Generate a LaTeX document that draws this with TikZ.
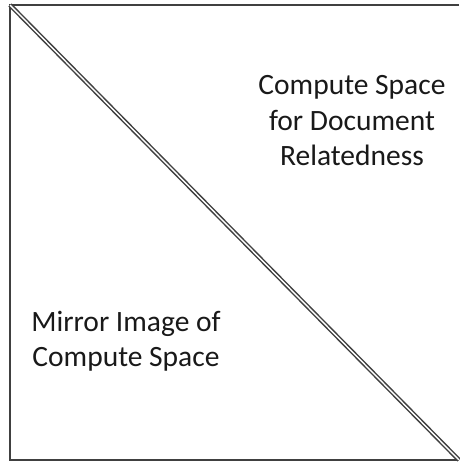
\documentclass[tikz,border=0pt]{standalone}
\usepackage{fontspec}
\setmainfont{Carlito}
\begin{document}
\begin{tikzpicture}[x=1pt,y=-1pt,
  edge/.style={draw=black!75,line width=1.6pt},
  diag/.style={draw=black!75,line width=1.5pt,double=white,double distance=1.4pt},
  label/.style={align=center,font=\fontsize{29.5}{35.5}\selectfont,text=black!90,inner sep=0pt}]
\useasboundingbox (0,0) rectangle (459,464);
\coordinate (tl) at (10,5);
\coordinate (tr) at (459,5);
\coordinate (bl) at (10,460);
\coordinate (br) at (459,460);
% frame: top, left and bottom edges
\draw[edge] (tr) -- (tl) -- (bl) -- (br);
% separating diagonal
\draw[diag] (tl) -- (br);
\node[label] (upper) at (352,121) {Compute Space\\for Document\\Relatedness};
\node[label] (lower) at (126,341) {Mirror Image of\\Compute Space};
\end{tikzpicture}
\end{document}
